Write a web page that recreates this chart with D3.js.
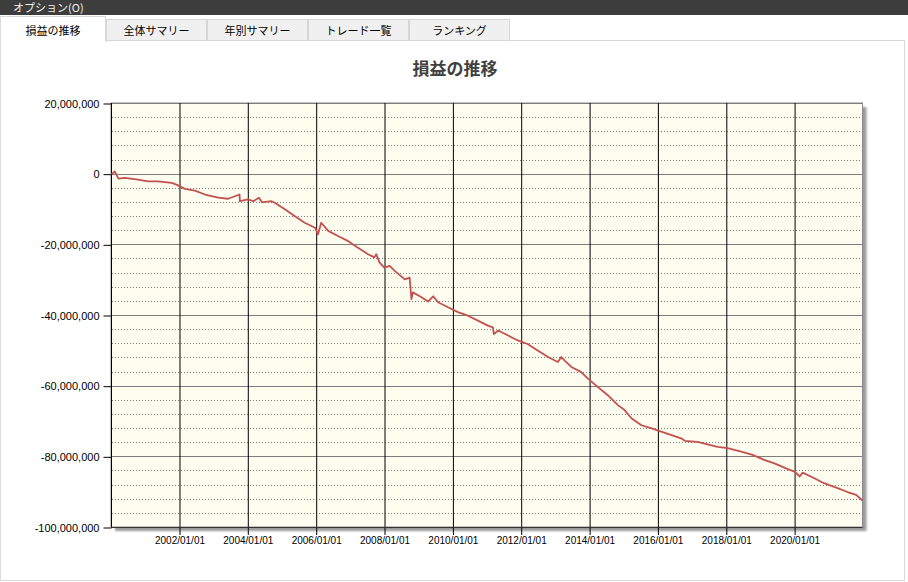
<!DOCTYPE html>
<html><head><meta charset="utf-8">
<script src="https://cdn.jsdelivr.net/npm/d3@7"></script>
<style>
html,body{margin:0;padding:0;background:#fff;overflow:hidden;}
svg{display:block;}
</style></head><body>
<svg id="c" width="908" height="582"></svg>
<script>
// ---- data ----
const menuLabel = "オプション(O)";
const tabLabels = ["損益の推移", "全体サマリー", "年別サマリー", "トレード一覧", "ランキング"];
const chartTitle = "損益の推移";

const dates = [
  "2000-01-10","2000-02-15","2000-03-25","2000-05-30","2000-10-20","2001-02-05","2001-05-20","2001-10-15","2001-12-05",
  "2002-03-05","2002-06-20","2002-10-05","2003-02-25","2003-06-10","2003-10-10","2003-10-14","2004-01-10","2004-03-05",
  "2004-05-05","2004-06-05","2004-09-15","2004-10-25","2005-02-05","2005-05-20","2005-09-05","2005-12-25","2006-01-25",
  "2006-03-01","2006-05-15","2006-09-01","2006-12-15","2007-03-25","2007-07-15","2007-09-20","2007-10-10","2007-11-15",
  "2008-01-05","2008-03-01","2008-04-25","2008-08-10","2008-10-01","2008-10-20","2008-11-05","2009-02-05","2009-04-15",
  "2009-06-10","2009-08-01","2009-11-15","2010-03-01","2010-06-15","2010-10-01","2011-01-15","2011-03-10","2011-03-20",
  "2011-05-05","2011-08-20","2011-12-01","2012-03-15","2012-07-05","2012-10-20","2013-02-01","2013-03-10","2013-04-15",
  "2013-06-25","2013-10-05","2013-12-20","2014-04-05","2014-07-20","2014-11-05","2015-01-15","2015-04-01","2015-07-15",
  "2015-11-01","2016-02-10","2016-06-01","2016-09-10","2016-10-20","2017-03-05","2017-06-20","2017-10-05","2018-01-20",
  "2018-06-15","2018-10-15","2019-02-15","2019-06-05","2019-11-01","2020-01-05","2020-03-01","2020-04-01","2020-08-05",
  "2020-11-15","2021-04-10","2021-07-25","2021-10-25","2021-12-31"
];
// cumulative profit/loss, millions of yen
const pnlMillions = [
  -0.2, 0.6, -1.4, -1.2, -1.7, -2.2, -2.2, -2.6, -3.1,
  -4.3, -4.8, -5.9, -6.8, -7.1, -5.9, -7.8, -7.3, -7.8,
  -6.8, -8.1, -7.8, -8.3, -10.1, -12.0, -13.9, -15.3, -17.2,
  -13.9, -16.2, -17.7, -19.1, -20.9, -22.8, -23.7, -22.8, -25.2,
  -26.6, -26.1, -27.5, -29.9, -29.4, -35.5, -33.6, -35.0, -36.2,
  -34.7, -36.4, -37.8, -39.2, -40.2, -41.6, -43.0, -43.5, -45.4,
  -44.4, -45.8, -47.2, -48.2, -50.1, -51.9, -53.3, -51.9, -52.9,
  -54.7, -56.1, -58.0, -60.4, -62.7, -65.5, -66.9, -69.3, -71.2,
  -72.1, -73.0, -74.0, -74.9, -75.6, -75.9, -76.6, -77.3, -77.7,
  -78.7, -79.6, -81.0, -82.0, -83.7, -84.3, -85.7, -84.6, -86.2,
  -87.6, -89.0, -90.1, -90.9, -92.5
];
const yTickValues = [20000000, 0, -20000000, -40000000, -60000000, -80000000, -100000000];
const xTickYears = [2002, 2004, 2006, 2008, 2010, 2012, 2014, 2016, 2018, 2020];
const xDomainDates = ["2000-01-01", "2022-01-01"];
const yDomain = [-100000000, 20000000];
const minorStep = 4000000;

// ---- drawing ----
const parse = d3.timeParse("%Y-%m-%d");
const series = dates.map((d, i) => ({date: parse(d), value: pnlMillions[i] * 1e6}));

const svg = d3.select("#c");
const uiFont = "'Noto Sans CJK JP', 'Noto Sans', sans-serif";
const numFont = "'Liberation Sans', Arial, sans-serif";

// window chrome
svg.append("rect").attr("x", 0).attr("y", 0).attr("width", 908).attr("height", 582).attr("fill", "#ffffff");
svg.append("rect").attr("x", 0).attr("y", 0).attr("width", 908).attr("height", 15).attr("fill", "#3d3d3d");
svg.append("text").attr("x", 13).attr("y", 11.5).attr("fill", "#f2f2f2")
  .attr("font-family", uiFont).attr("font-size", 11).text(menuLabel);

// content panel
svg.append("rect").attr("x", 0.5).attr("y", 40.5).attr("width", 904).attr("height", 540)
  .attr("fill", "#ffffff").attr("stroke", "#dadada");

// tabs
const tabW = 101, firstW = 106;
tabLabels.forEach((lab, i) => {
  const x = i === 0 ? 0 : firstW + (i - 1) * tabW;
  const w = i === 0 ? firstW : tabW;
  const active = i === 0;
  const g = svg.append("g");
  g.append("rect").attr("x", x + 0.5).attr("y", active ? 16.5 : 19.5)
    .attr("width", w - 1).attr("height", active ? 25 : 21)
    .attr("fill", active ? "#ffffff" : "#f0f0f0")
    .attr("stroke", active ? "#dadada" : "#d6d6d6");
  g.append("text").attr("x", x + w / 2).attr("y", 34.5).attr("text-anchor", "middle")
    .attr("font-family", uiFont).attr("font-size", 11).attr("fill", "#000").text(lab);
});
// cover bottom border of active tab
svg.append("rect").attr("x", 1).attr("y", 39).attr("width", 104).attr("height", 3).attr("fill", "#fff");

// title
svg.append("text").attr("x", 455).attr("y", 75).attr("text-anchor", "middle")
  .attr("font-family", uiFont).attr("font-size", 17).attr("font-weight", "bold")
  .attr("fill", "#404040").text(chartTitle);

// scales
const x0 = 111, x1 = 862.5, y0 = 103, y1 = 527;
const x = d3.scaleTime().domain(xDomainDates.map(parse)).range([110.6, x1]);
const y = d3.scaleLinear().domain(yDomain).range([y1, y0]);

// shadow
const defs = svg.append("defs");
const f = defs.append("filter").attr("id", "sh").attr("x", "-5%").attr("y", "-5%").attr("width", "110%").attr("height", "110%");
f.append("feGaussianBlur").attr("stdDeviation", 1.2);
svg.append("rect").attr("x", x0 + 4).attr("y", y0 + 4).attr("width", x1 - x0).attr("height", y1 - y0)
  .attr("fill", "#9a9a9a").attr("filter", "url(#sh)");

// plot background
svg.append("rect").attr("x", x0).attr("y", y0).attr("width", x1 - x0).attr("height", y1 - y0)
  .attr("fill", "#fdfdf0").attr("stroke", "#8c8c8c").attr("stroke-width", 1);

// minor dotted grid
const minorVals = d3.range(yDomain[0] + minorStep, yDomain[1], minorStep)
  .filter(v => Math.abs(v % 20000000) > 1);
svg.append("g").selectAll("line").data(minorVals).join("line")
  .attr("x1", x0 + 1).attr("x2", x1)
  .attr("y1", d => Math.round(y(d)) + 0.5).attr("y2", d => Math.round(y(d)) + 0.5)
  .attr("stroke", "#7a7a7a").attr("stroke-width", 1).attr("stroke-dasharray", "1,2");

// major horizontal grid
svg.append("g").selectAll("line").data(yTickValues).join("line")
  .attr("x1", x0).attr("x2", x1)
  .attr("y1", d => Math.round(y(d)) + 0.5).attr("y2", d => Math.round(y(d)) + 0.5)
  .attr("stroke", "#7d7d7d").attr("stroke-width", 1);

// x axis with vertical grid lines extending as ticks
const xTicks = xTickYears.map(yr => new Date(yr, 0, 1));
const xAxis = d3.axisBottom(x).tickValues(xTicks).tickFormat(d3.timeFormat("%Y/%m/%d"))
  .tickSize(y1 - y0 + 8).tickSizeOuter(0).tickPadding(2);
const gx = svg.append("g").attr("transform", `translate(0.5,${y0})`).call(xAxis);
gx.select(".domain").remove();
gx.selectAll(".tick line").attr("stroke", "#000");
gx.selectAll(".tick text").attr("font-family", numFont).attr("font-size", 10).attr("fill", "#000");

// y axis
const loc = d3.formatLocale({decimal: ".", thousands: ",", grouping: [3], currency: ["", ""], minus: "-"});
const yAxis = d3.axisLeft(y).tickValues(yTickValues).tickFormat(loc.format(",")).tickSize(8).tickSizeOuter(0).tickPadding(4);
const gy = svg.append("g").attr("transform", `translate(${x0 + 0.5},0.5)`).call(yAxis);
gy.select(".domain").remove();
gy.selectAll(".tick line").attr("stroke", "#000");
gy.selectAll(".tick text").attr("font-family", numFont).attr("font-size", 11).attr("fill", "#000");

// axis lines
svg.append("line").attr("x1", x0 + 0.5).attr("x2", x0 + 0.5).attr("y1", y0).attr("y2", y1 + 1)
  .attr("stroke", "#000");
svg.append("line").attr("x1", x0).attr("x2", x1).attr("y1", y1 + 0.5).attr("y2", y1 + 0.5)
  .attr("stroke", "#333");

// pnl line
const line = d3.line().x(d => x(d.date)).y(d => y(d.value));
svg.append("path").datum(series).attr("d", line)
  .attr("fill", "none").attr("stroke", "#c4504f").attr("stroke-width", 1.8)
  .attr("stroke-linejoin", "round");
</script>
</body></html>
